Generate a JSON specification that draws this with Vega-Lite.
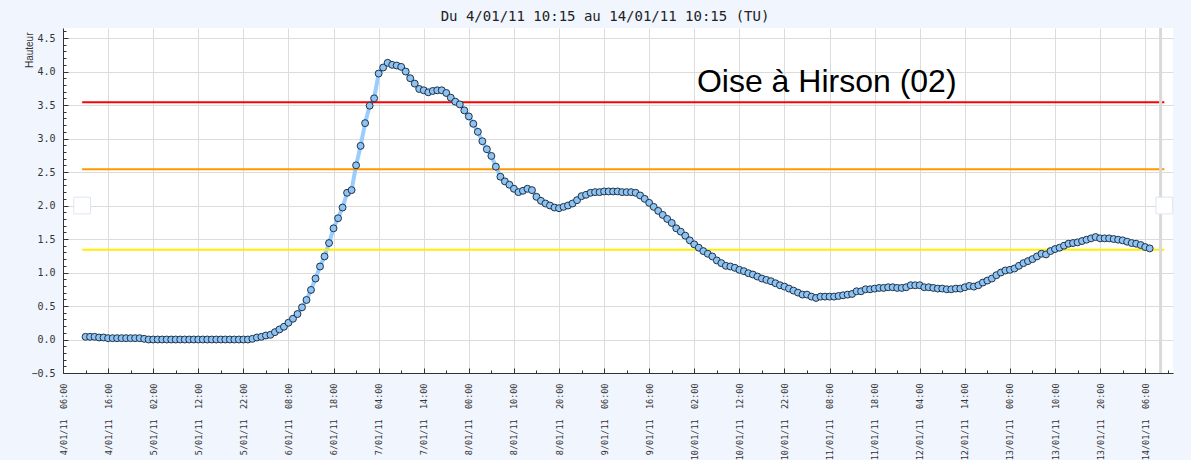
{
  "$schema": "https://vega.github.io/schema/vega-lite/v6.json",
  "width": 1110,
  "height": 345,
  "autosize": {"type": "none"},
  "padding": {"left": 63, "top": 28, "right": 18, "bottom": 87},
  "background": "#f0f5fe",
  "title": {"text": "Du 4/01/11 10:15 au 14/01/11 10:15 (TU)", "anchor": "middle", "frame": "group", "dx": -13, "offset": 3, "font": "DejaVu Sans Mono", "fontSize": 14, "fontWeight": "normal", "color": "#222222"},
  "config": {"view": {"fill": "white", "stroke": null}},
  "resolve": {"axis": {"x": "independent", "y": "independent"}},
  "datasets": {
    "niveau": [
      {"t":"2011-01-04T11:00","v":0.04},{"t":"2011-01-04T12:00","v":0.04},{"t":"2011-01-04T13:00","v":0.04},{"t":"2011-01-04T14:00","v":0.03},{"t":"2011-01-04T15:00","v":0.03},{"t":"2011-01-04T16:00","v":0.02},{"t":"2011-01-04T17:00","v":0.02},{"t":"2011-01-04T18:00","v":0.02},{"t":"2011-01-04T19:00","v":0.02},{"t":"2011-01-04T20:00","v":0.02},{"t":"2011-01-04T21:00","v":0.02},{"t":"2011-01-04T22:00","v":0.02},{"t":"2011-01-04T23:00","v":0.02},
      {"t":"2011-01-05T00:00","v":0.01},{"t":"2011-01-05T01:00","v":0.0},{"t":"2011-01-05T02:00","v":0.0},{"t":"2011-01-05T03:00","v":0.0},{"t":"2011-01-05T04:00","v":0.0},{"t":"2011-01-05T05:00","v":0.0},{"t":"2011-01-05T06:00","v":0.0},{"t":"2011-01-05T07:00","v":0.0},{"t":"2011-01-05T08:00","v":0.0},{"t":"2011-01-05T09:00","v":0.0},{"t":"2011-01-05T10:00","v":0.0},{"t":"2011-01-05T11:00","v":0.0},{"t":"2011-01-05T12:00","v":0.0},{"t":"2011-01-05T13:00","v":0.0},{"t":"2011-01-05T14:00","v":0.0},{"t":"2011-01-05T15:00","v":0.0},{"t":"2011-01-05T16:00","v":0.0},{"t":"2011-01-05T17:00","v":0.0},{"t":"2011-01-05T18:00","v":0.0},{"t":"2011-01-05T19:00","v":0.0},{"t":"2011-01-05T20:00","v":0.0},{"t":"2011-01-05T21:00","v":0.0},{"t":"2011-01-05T22:00","v":0.0},{"t":"2011-01-05T23:00","v":0.0},
      {"t":"2011-01-06T00:00","v":0.01},{"t":"2011-01-06T01:00","v":0.03},{"t":"2011-01-06T02:00","v":0.04},{"t":"2011-01-06T03:00","v":0.06},{"t":"2011-01-06T04:00","v":0.07},{"t":"2011-01-06T05:00","v":0.11},{"t":"2011-01-06T06:00","v":0.15},{"t":"2011-01-06T07:00","v":0.19},{"t":"2011-01-06T08:00","v":0.25},{"t":"2011-01-06T09:00","v":0.31},{"t":"2011-01-06T10:00","v":0.38},{"t":"2011-01-06T11:00","v":0.48},{"t":"2011-01-06T12:00","v":0.59},{"t":"2011-01-06T13:00","v":0.74},{"t":"2011-01-06T14:00","v":0.91},{"t":"2011-01-06T15:00","v":1.09},{"t":"2011-01-06T16:00","v":1.24},{"t":"2011-01-06T17:00","v":1.44},{"t":"2011-01-06T18:00","v":1.66},{"t":"2011-01-06T19:00","v":1.81},{"t":"2011-01-06T20:00","v":1.97},{"t":"2011-01-06T21:00","v":2.19},{"t":"2011-01-06T22:00","v":2.23},{"t":"2011-01-06T23:00","v":2.6},
      {"t":"2011-01-07T00:00","v":2.89},{"t":"2011-01-07T01:00","v":3.23},{"t":"2011-01-07T02:00","v":3.49},{"t":"2011-01-07T03:00","v":3.6},{"t":"2011-01-07T04:00","v":3.97},{"t":"2011-01-07T05:00","v":4.06},{"t":"2011-01-07T06:00","v":4.13},{"t":"2011-01-07T07:00","v":4.1},{"t":"2011-01-07T08:00","v":4.09},{"t":"2011-01-07T09:00","v":4.07},{"t":"2011-01-07T10:00","v":4.0},{"t":"2011-01-07T11:00","v":3.9},{"t":"2011-01-07T12:00","v":3.82},{"t":"2011-01-07T13:00","v":3.74},{"t":"2011-01-07T14:00","v":3.72},{"t":"2011-01-07T15:00","v":3.69},{"t":"2011-01-07T16:00","v":3.71},{"t":"2011-01-07T17:00","v":3.72},{"t":"2011-01-07T18:00","v":3.72},{"t":"2011-01-07T19:00","v":3.68},{"t":"2011-01-07T20:00","v":3.61},{"t":"2011-01-07T21:00","v":3.55},{"t":"2011-01-07T22:00","v":3.51},{"t":"2011-01-07T23:00","v":3.42},
      {"t":"2011-01-08T00:00","v":3.33},{"t":"2011-01-08T01:00","v":3.22},{"t":"2011-01-08T02:00","v":3.1},{"t":"2011-01-08T03:00","v":2.96},{"t":"2011-01-08T04:00","v":2.84},{"t":"2011-01-08T05:00","v":2.74},{"t":"2011-01-08T06:00","v":2.58},{"t":"2011-01-08T07:00","v":2.43},{"t":"2011-01-08T08:00","v":2.36},{"t":"2011-01-08T09:00","v":2.31},{"t":"2011-01-08T10:00","v":2.25},{"t":"2011-01-08T11:00","v":2.2},{"t":"2011-01-08T12:00","v":2.22},{"t":"2011-01-08T13:00","v":2.25},{"t":"2011-01-08T14:00","v":2.23},{"t":"2011-01-08T15:00","v":2.13},{"t":"2011-01-08T16:00","v":2.07},{"t":"2011-01-08T17:00","v":2.03},{"t":"2011-01-08T18:00","v":2.0},{"t":"2011-01-08T19:00","v":1.97},{"t":"2011-01-08T20:00","v":1.96},{"t":"2011-01-08T21:00","v":1.98},{"t":"2011-01-08T22:00","v":2.0},{"t":"2011-01-08T23:00","v":2.03},
      {"t":"2011-01-09T00:00","v":2.08},{"t":"2011-01-09T01:00","v":2.14},{"t":"2011-01-09T02:00","v":2.16},{"t":"2011-01-09T03:00","v":2.19},{"t":"2011-01-09T04:00","v":2.2},{"t":"2011-01-09T05:00","v":2.2},{"t":"2011-01-09T06:00","v":2.21},{"t":"2011-01-09T07:00","v":2.21},{"t":"2011-01-09T08:00","v":2.21},{"t":"2011-01-09T09:00","v":2.21},{"t":"2011-01-09T10:00","v":2.2},{"t":"2011-01-09T11:00","v":2.2},{"t":"2011-01-09T12:00","v":2.2},{"t":"2011-01-09T13:00","v":2.19},{"t":"2011-01-09T14:00","v":2.15},{"t":"2011-01-09T15:00","v":2.1},{"t":"2011-01-09T16:00","v":2.04},{"t":"2011-01-09T17:00","v":1.98},{"t":"2011-01-09T18:00","v":1.92},{"t":"2011-01-09T19:00","v":1.86},{"t":"2011-01-09T20:00","v":1.8},{"t":"2011-01-09T21:00","v":1.74},{"t":"2011-01-09T22:00","v":1.66},{"t":"2011-01-09T23:00","v":1.61},
      {"t":"2011-01-10T00:00","v":1.55},{"t":"2011-01-10T01:00","v":1.48},{"t":"2011-01-10T02:00","v":1.42},{"t":"2011-01-10T03:00","v":1.37},{"t":"2011-01-10T04:00","v":1.32},{"t":"2011-01-10T05:00","v":1.28},{"t":"2011-01-10T06:00","v":1.24},{"t":"2011-01-10T07:00","v":1.18},{"t":"2011-01-10T08:00","v":1.14},{"t":"2011-01-10T09:00","v":1.1},{"t":"2011-01-10T10:00","v":1.09},{"t":"2011-01-10T11:00","v":1.07},{"t":"2011-01-10T12:00","v":1.04},{"t":"2011-01-10T13:00","v":1.02},{"t":"2011-01-10T14:00","v":0.99},{"t":"2011-01-10T15:00","v":0.97},{"t":"2011-01-10T16:00","v":0.94},{"t":"2011-01-10T17:00","v":0.91},{"t":"2011-01-10T18:00","v":0.89},{"t":"2011-01-10T19:00","v":0.87},{"t":"2011-01-10T20:00","v":0.84},{"t":"2011-01-10T21:00","v":0.81},{"t":"2011-01-10T22:00","v":0.79},{"t":"2011-01-10T23:00","v":0.76},
      {"t":"2011-01-11T00:00","v":0.73},{"t":"2011-01-11T01:00","v":0.7},{"t":"2011-01-11T02:00","v":0.67},{"t":"2011-01-11T03:00","v":0.67},{"t":"2011-01-11T04:00","v":0.64},{"t":"2011-01-11T05:00","v":0.62},{"t":"2011-01-11T06:00","v":0.64},{"t":"2011-01-11T07:00","v":0.64},{"t":"2011-01-11T08:00","v":0.64},{"t":"2011-01-11T09:00","v":0.64},{"t":"2011-01-11T10:00","v":0.65},{"t":"2011-01-11T11:00","v":0.66},{"t":"2011-01-11T12:00","v":0.67},{"t":"2011-01-11T13:00","v":0.68},{"t":"2011-01-11T14:00","v":0.72},{"t":"2011-01-11T15:00","v":0.72},{"t":"2011-01-11T16:00","v":0.75},{"t":"2011-01-11T17:00","v":0.75},{"t":"2011-01-11T18:00","v":0.76},{"t":"2011-01-11T19:00","v":0.77},{"t":"2011-01-11T20:00","v":0.77},{"t":"2011-01-11T21:00","v":0.78},{"t":"2011-01-11T22:00","v":0.78},{"t":"2011-01-11T23:00","v":0.77},
      {"t":"2011-01-12T00:00","v":0.77},{"t":"2011-01-12T01:00","v":0.78},{"t":"2011-01-12T02:00","v":0.81},{"t":"2011-01-12T03:00","v":0.81},{"t":"2011-01-12T04:00","v":0.81},{"t":"2011-01-12T05:00","v":0.78},{"t":"2011-01-12T06:00","v":0.78},{"t":"2011-01-12T07:00","v":0.77},{"t":"2011-01-12T08:00","v":0.76},{"t":"2011-01-12T09:00","v":0.76},{"t":"2011-01-12T10:00","v":0.75},{"t":"2011-01-12T11:00","v":0.75},{"t":"2011-01-12T12:00","v":0.76},{"t":"2011-01-12T13:00","v":0.76},{"t":"2011-01-12T14:00","v":0.78},{"t":"2011-01-12T15:00","v":0.8},{"t":"2011-01-12T16:00","v":0.79},{"t":"2011-01-12T17:00","v":0.81},{"t":"2011-01-12T18:00","v":0.85},{"t":"2011-01-12T19:00","v":0.88},{"t":"2011-01-12T20:00","v":0.91},{"t":"2011-01-12T21:00","v":0.96},{"t":"2011-01-12T22:00","v":1.0},{"t":"2011-01-12T23:00","v":1.03},
      {"t":"2011-01-13T00:00","v":1.04},{"t":"2011-01-13T01:00","v":1.06},{"t":"2011-01-13T02:00","v":1.1},{"t":"2011-01-13T03:00","v":1.14},{"t":"2011-01-13T04:00","v":1.17},{"t":"2011-01-13T05:00","v":1.2},{"t":"2011-01-13T06:00","v":1.24},{"t":"2011-01-13T07:00","v":1.28},{"t":"2011-01-13T08:00","v":1.27},{"t":"2011-01-13T09:00","v":1.32},{"t":"2011-01-13T10:00","v":1.35},{"t":"2011-01-13T11:00","v":1.37},{"t":"2011-01-13T12:00","v":1.4},{"t":"2011-01-13T13:00","v":1.43},{"t":"2011-01-13T14:00","v":1.44},{"t":"2011-01-13T15:00","v":1.45},{"t":"2011-01-13T16:00","v":1.47},{"t":"2011-01-13T17:00","v":1.49},{"t":"2011-01-13T18:00","v":1.51},{"t":"2011-01-13T19:00","v":1.53},{"t":"2011-01-13T20:00","v":1.51},{"t":"2011-01-13T21:00","v":1.51},{"t":"2011-01-13T22:00","v":1.51},{"t":"2011-01-13T23:00","v":1.5},
      {"t":"2011-01-14T00:00","v":1.49},{"t":"2011-01-14T01:00","v":1.48},{"t":"2011-01-14T02:00","v":1.46},{"t":"2011-01-14T03:00","v":1.44},{"t":"2011-01-14T04:00","v":1.43},{"t":"2011-01-14T05:00","v":1.41},{"t":"2011-01-14T06:00","v":1.38},{"t":"2011-01-14T07:00","v":1.36}
    ],
    "seuils": [
      {"debut":"2011-01-04T10:15","fin":"2011-01-14T10:15","v":3.54,"seuil":"rouge"},
      {"debut":"2011-01-04T10:15","fin":"2011-01-14T10:15","v":2.54,"seuil":"orange"},
      {"debut":"2011-01-04T10:15","fin":"2011-01-14T10:15","v":1.34,"seuil":"jaune"}
    ],
    "poignees": [
      {"t":"2011-01-04T10:15","v":2.0},
      {"t":"2011-01-14T10:15","v":2.0}
    ]
  },
  "layer": [
    {
      "data": {"name": "niveau"},
      "mark": {"type": "line", "color": "#99ccff", "strokeWidth": 4},
      "encoding": {
        "x": {
          "field": "t", "type": "temporal", "title": null,
          "scale": {"domain": [{"year":2011,"month":1,"date":4,"hours":6},{"year":2011,"month":1,"date":14,"hours":12,"minutes":10}]},
          "axis": {
            "orient": "bottom",
            "values": [
              {"year":2011,"month":1,"date":4,"hours":6},{"year":2011,"month":1,"date":4,"hours":16},{"year":2011,"month":1,"date":5,"hours":2},{"year":2011,"month":1,"date":5,"hours":12},{"year":2011,"month":1,"date":5,"hours":22},{"year":2011,"month":1,"date":6,"hours":8},{"year":2011,"month":1,"date":6,"hours":18},{"year":2011,"month":1,"date":7,"hours":4},{"year":2011,"month":1,"date":7,"hours":14},{"year":2011,"month":1,"date":8,"hours":0},{"year":2011,"month":1,"date":8,"hours":10},{"year":2011,"month":1,"date":8,"hours":20},{"year":2011,"month":1,"date":9,"hours":6},{"year":2011,"month":1,"date":9,"hours":16},{"year":2011,"month":1,"date":10,"hours":2},{"year":2011,"month":1,"date":10,"hours":12},{"year":2011,"month":1,"date":10,"hours":22},{"year":2011,"month":1,"date":11,"hours":8},{"year":2011,"month":1,"date":11,"hours":18},{"year":2011,"month":1,"date":12,"hours":4},{"year":2011,"month":1,"date":12,"hours":14},{"year":2011,"month":1,"date":13,"hours":0},{"year":2011,"month":1,"date":13,"hours":10},{"year":2011,"month":1,"date":13,"hours":20},{"year":2011,"month":1,"date":14,"hours":6}
            ],
            "format": "%-d/%m/%y\u00a0\u00a0%H:%M",
            "formatType": "time",
            "labelAngle": -90,
            "labelFont": "DejaVu Sans Mono",
            "labelFontSize": 8.5,
            "labelColor": "#333333",
            "labelPadding": 10,
            "labelOverlap": false,
            "labelFlush": false,
            "labelBound": false,
            "ticks": false,
            "domainColor": "#333333",
            "grid": true,
            "gridColor": "#dcdcdc"
          }
        },
        "y": {
          "field": "v", "type": "quantitative", "title": "Hauteur",
          "scale": {"domain": [-0.5, 4.65], "nice": false, "zero": false},
          "axis": {
            "orient": "left",
            "values": [-0.5,0,0.5,1,1.5,2,2.5,3,3.5,4,4.5],
            "format": ".1f",
            "labelFont": "DejaVu Sans Mono",
            "labelFontSize": 10,
            "labelColor": "#333333",
            "labelPadding": 8,
            "labelOverlap": false,
            "labelFlush": false,
            "labelBound": false,
            "ticks": false,
            "domainColor": "#333333",
            "grid": true,
            "gridColor": "#dcdcdc",
            "titleX": -34,
            "titleY": 4,
            "titleAngle": -90,
            "titleAlign": "right",
            "titleBaseline": "middle",
            "titleFont": "Liberation Sans",
            "titleFontSize": 10,
            "titleFontWeight": "normal",
            "titleColor": "#333333"
          }
        }
      }
    },
    {
      "data": {"name": "seuils"},
      "mark": {"type": "rule", "strokeWidth": 2},
      "encoding": {
        "x": {"field": "debut", "type": "temporal", "axis": null},
        "x2": {"field": "fin"},
        "y": {"field": "v", "type": "quantitative", "axis": null},
        "color": {"field": "seuil", "type": "nominal", "scale": {"domain": ["rouge", "orange", "jaune"], "range": ["#ff0000", "#ff9900", "#ffee00"]}, "legend": null}
      }
    },
    {
      "data": {"values": [{"marque": "maintenant"}]},
      "mark": {"type": "rule", "color": "#d9d9d9", "strokeWidth": 3},
      "encoding": {
        "x": {"datum": {"year":2011,"month":1,"date":14,"hours":9,"minutes":25}, "type": "temporal", "axis": null}
      }
    },
    {
      "data": {"name": "poignees"},
      "mark": {"type": "point", "shape": "square", "filled": true, "fill": "white", "stroke": "#dde6f6", "strokeWidth": 1, "size": 280, "opacity": 1},
      "encoding": {
        "x": {
          "field": "t", "type": "temporal", "title": null,
          "axis": {
            "orient": "top", "offset": -345, "labels": false, "grid": false, "domain": false,
            "tickSize": 3, "tickColor": "#333333",
            "values": [
              {"year":2011,"month":1,"date":4,"hours":11},{"year":2011,"month":1,"date":4,"hours":21},{"year":2011,"month":1,"date":5,"hours":7},{"year":2011,"month":1,"date":5,"hours":17},{"year":2011,"month":1,"date":6,"hours":3},{"year":2011,"month":1,"date":6,"hours":13},{"year":2011,"month":1,"date":6,"hours":23},{"year":2011,"month":1,"date":7,"hours":9},{"year":2011,"month":1,"date":7,"hours":19},{"year":2011,"month":1,"date":8,"hours":5},{"year":2011,"month":1,"date":8,"hours":15},{"year":2011,"month":1,"date":9,"hours":1},{"year":2011,"month":1,"date":9,"hours":11},{"year":2011,"month":1,"date":9,"hours":21},{"year":2011,"month":1,"date":10,"hours":7},{"year":2011,"month":1,"date":10,"hours":17},{"year":2011,"month":1,"date":11,"hours":3},{"year":2011,"month":1,"date":11,"hours":13},{"year":2011,"month":1,"date":11,"hours":23},{"year":2011,"month":1,"date":12,"hours":9},{"year":2011,"month":1,"date":12,"hours":19},{"year":2011,"month":1,"date":13,"hours":5},{"year":2011,"month":1,"date":13,"hours":15},{"year":2011,"month":1,"date":14,"hours":1},{"year":2011,"month":1,"date":14,"hours":11}
            ]
          }
        },
        "y": {
          "field": "v", "type": "quantitative", "title": null,
          "axis": {
            "orient": "right", "offset": -1110, "labels": false, "grid": false, "domain": false,
            "tickSize": 3, "tickColor": "#333333",
            "values": [-0.4,-0.3,-0.2,-0.1,0.1,0.2,0.3,0.4,0.6,0.7,0.8,0.9,1.1,1.2,1.3,1.4,1.6,1.7,1.8,1.9,2.1,2.2,2.3,2.4,2.6,2.7,2.8,2.9,3.1,3.2,3.3,3.4,3.6,3.7,3.8,3.9,4.1,4.2,4.3,4.4,4.6]
          }
        }
      }
    },
    {
      "data": {"name": "niveau"},
      "mark": {"type": "point", "shape": "circle", "filled": true, "fill": "#8ec3f3", "stroke": "#1f3347", "strokeWidth": 1, "size": 48, "opacity": 1},
      "encoding": {
        "x": {
          "field": "t", "type": "temporal", "title": null,
          "axis": {
            "orient": "top", "offset": -345, "labels": false, "grid": false, "domain": false,
            "tickSize": 5, "tickColor": "#333333",
            "values": [
              {"year":2011,"month":1,"date":4,"hours":6},{"year":2011,"month":1,"date":4,"hours":16},{"year":2011,"month":1,"date":5,"hours":2},{"year":2011,"month":1,"date":5,"hours":12},{"year":2011,"month":1,"date":5,"hours":22},{"year":2011,"month":1,"date":6,"hours":8},{"year":2011,"month":1,"date":6,"hours":18},{"year":2011,"month":1,"date":7,"hours":4},{"year":2011,"month":1,"date":7,"hours":14},{"year":2011,"month":1,"date":8,"hours":0},{"year":2011,"month":1,"date":8,"hours":10},{"year":2011,"month":1,"date":8,"hours":20},{"year":2011,"month":1,"date":9,"hours":6},{"year":2011,"month":1,"date":9,"hours":16},{"year":2011,"month":1,"date":10,"hours":2},{"year":2011,"month":1,"date":10,"hours":12},{"year":2011,"month":1,"date":10,"hours":22},{"year":2011,"month":1,"date":11,"hours":8},{"year":2011,"month":1,"date":11,"hours":18},{"year":2011,"month":1,"date":12,"hours":4},{"year":2011,"month":1,"date":12,"hours":14},{"year":2011,"month":1,"date":13,"hours":0},{"year":2011,"month":1,"date":13,"hours":10},{"year":2011,"month":1,"date":13,"hours":20},{"year":2011,"month":1,"date":14,"hours":6}
            ]
          }
        },
        "y": {
          "field": "v", "type": "quantitative", "title": null,
          "axis": {
            "orient": "right", "offset": -1110, "labels": false, "grid": false, "domain": false,
            "tickSize": 5, "tickColor": "#333333",
            "values": [-0.5,0,0.5,1,1.5,2,2.5,3,3.5,4,4.5]
          }
        }
      }
    },
    {
      "data": {"values": [{"label": "Oise à Hirson (02)"}]},
      "mark": {"type": "text", "font": "Liberation Sans", "fontSize": 32, "align": "left", "baseline": "alphabetic", "color": "#000000"},
      "encoding": {
        "x": {"datum": {"year":2011,"month":1,"date":10,"hours":2,"minutes":35}, "type": "temporal", "axis": null},
        "y": {"datum": 3.7, "type": "quantitative", "axis": null},
        "text": {"field": "label"}
      }
    }
  ]
}
